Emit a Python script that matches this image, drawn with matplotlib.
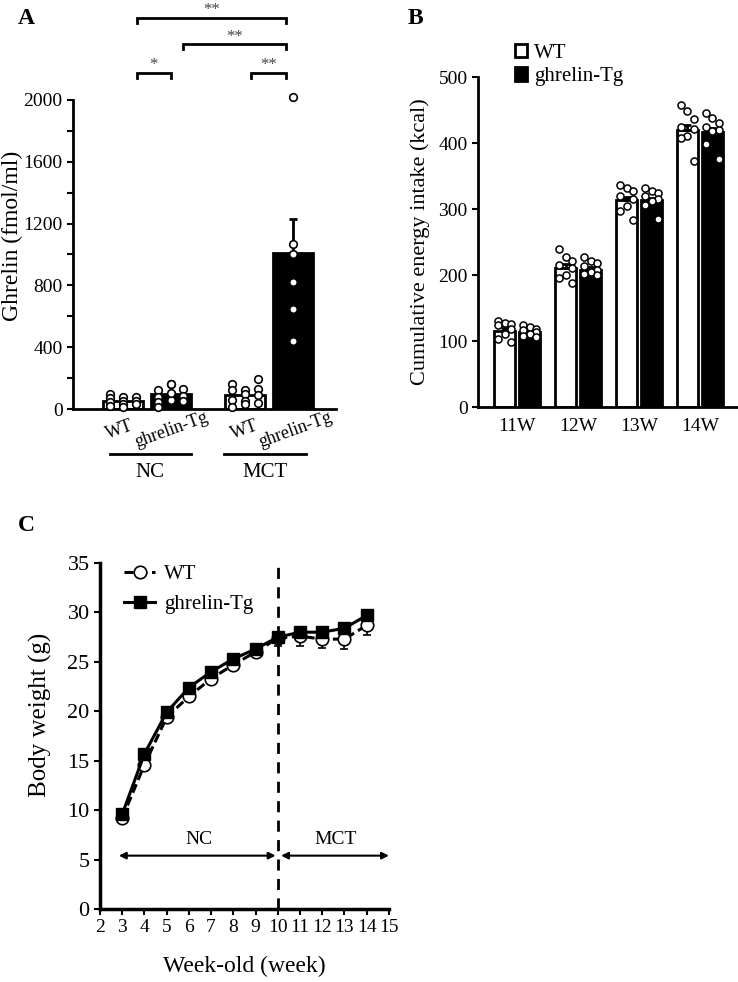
import numpy as np
import matplotlib
matplotlib.use("Agg")
import matplotlib.pyplot as plt

plt.rcParams['font.family'] = ['Liberation Serif', 'DejaVu Serif']
plt.rcParams['axes.linewidth'] = 2.0

# ---------------- Data ----------------
# Panel A
a_groups = ["WT", "ghrelin-Tg", "WT", "ghrelin-Tg"]
a_diets = ["NC", "MCT"]
a_means = [55, 100, 90, 1010]
a_err = [0, 0, 0, 220]
a_dots = [
    [95, 70, 45, 20, 78, 55, 35, 12, 80, 55, 30],
    [125, 80, 45, 15, 160, 60, 105, 165, 130, 85, 50],
    [160, 120, 60, 15, 125, 95, 55, 35, 195, 130, 90, 40],
    [2020, 1070, 1000, 820, 650, 440],
]
a_yticks = [0, 400, 800, 1200, 1600, 2000]

# Panel B
b_weeks = ["11W", "12W", "13W", "14W"]
b_wt = [115, 210, 313, 420]
b_tg = [113, 208, 313, 417]
b_wt_err = [5, 7, 6, 8]
b_tg_err = [3, 4, 4, 6]
b_wt_dots = [
    [130, 127, 126, 124, 118, 110, 103, 98],
    [240, 228, 222, 215, 210, 200, 195, 188],
    [337, 332, 327, 320, 315, 305, 297, 283],
    [457, 448, 436, 424, 422, 410, 408, 373],
]
b_tg_dots = [
    [124, 122, 118, 116, 113, 110, 108, 106],
    [228, 222, 218, 213, 208, 205, 202, 200],
    [332, 328, 325, 320, 316, 312, 306, 285],
    [445, 438, 430, 425, 420, 418, 398, 376],
]

# Panel C
c_weeks = [3, 4, 5, 6, 7, 8, 9, 10, 11, 12, 13, 14]
c_wt = [9.2, 14.6, 19.4, 21.5, 23.3, 24.7, 26.0, 27.4, 27.6, 27.3, 27.3, 28.7]
c_tg = [9.6, 15.7, 19.9, 22.4, 24.0, 25.3, 26.3, 27.5, 28.0, 28.0, 28.4, 29.7]
c_wt_err = [0.3, 0.4, 0.4, 0.4, 0.4, 0.4, 0.4, 0.8, 1.0, 0.9, 1.0, 1.0]
c_tg_err = [0.2, 0.3, 0.3, 0.3, 0.3, 0.3, 0.3, 0.3, 0.5, 0.4, 0.4, 0.4]

# ---------------- Figure ----------------
fig = plt.figure(figsize=(7.38, 9.82), dpi=100)

# ===== Panel A =====
axA = fig.add_axes([0.0989, 0.5835, 0.3565, 0.3147])
a_x = [0, 1, 2.57, 3.57]
a_w = 0.84
a_face = ['white', 'black', 'white', 'black']
axA.bar(a_x, a_means, width=a_w, color=a_face, edgecolor='black', linewidth=2, zorder=2)
axA.errorbar([a_x[3]], [a_means[3]], yerr=[[0], [a_err[3]]], fmt='none',
             ecolor='black', elinewidth=2, capsize=3, capthick=2, zorder=3)
for i, vals in enumerate(a_dots):
    n = len(vals)
    if i == 3:
        offs = np.zeros(n)
    else:
        cols = [-0.27, 0.0, 0.27]
        offs = np.array([cols[min(k // 4, 2)] for k in range(n)])
    axA.scatter(a_x[i] + offs, vals, s=30, facecolor='white', edgecolor='black',
                linewidth=1.2, zorder=4, clip_on=False)
axA.set_xlim(-1.05, 4.48)
axA.set_ylim(0, 2000)
axA.set_yticks(a_yticks)
axA.set_yticks(np.arange(200, 2000, 400), minor=True)
axA.set_xticks([])
axA.tick_params(axis='y', which='both', direction='out', length=4, width=1.5, labelsize=14)
for s in ['top', 'right']:
    axA.spines[s].set_visible(False)
axA.set_ylabel("Ghrelin (fmol/ml)", fontsize=17)
axA.yaxis.set_label_coords(-0.19, 0.56)

transA = axA.get_xaxis_transform()
for xc, lab in zip([-0.06, 1.03, 2.55, 3.62], a_groups):
    axA.text(xc, -0.068, lab, rotation=20, ha='center', va='center', fontsize=13,
             transform=transA, clip_on=False)
for (x0, x1), xc, lab in zip([(-0.27, 1.43), (2.13, 3.85)], [0.57, 2.99], a_diets):
    axA.plot([x0, x1], [-0.146, -0.146], color='black', lw=2, transform=transA, clip_on=False)
    axA.text(xc, -0.205, lab, ha='center', va='center', fontsize=15, transform=transA)

# significance brackets
brackets = [(0.29, 3.43, 2530, "**"), (1.26, 3.43, 2360, "**"),
            (0.29, 1.01, 2175, "*"), (2.69, 3.43, 2175, "**")]
for x0, x1, yb, lab in brackets:
    axA.plot([x0, x0, x1, x1], [yb - 30, yb, yb, yb - 30], color='black', lw=2,
             clip_on=False, solid_joinstyle='miter')
    axA.text((x0 + x1) / 2, yb + 50, lab, ha='center', va='center', fontsize=12,
             color='#444444', clip_on=False)

fig.text(0.024, 0.992, "A", fontsize=17, fontweight='bold', va='top')

# ===== Panel B =====
axB = fig.add_axes([0.648, 0.5855, 0.350, 0.336])
bx = np.arange(len(b_weeks))
off = 0.205
bw = 0.345
axB.bar(bx - off, b_wt, width=bw, color='white', edgecolor='black', linewidth=2, zorder=2, label='WT')
axB.bar(bx + off, b_tg, width=bw, color='black', edgecolor='black', linewidth=2, zorder=2, label='ghrelin-Tg')
axB.errorbar(bx - off, b_wt, yerr=[np.zeros(4), b_wt_err], fmt='none', ecolor='black',
             elinewidth=2, capsize=3, capthick=2, zorder=3)
axB.errorbar(bx + off, b_tg, yerr=[np.zeros(4), b_tg_err], fmt='none', ecolor='black',
             elinewidth=2, capsize=3, capthick=2, zorder=3)
b_pattern = np.array([-0.11, 0.0, 0.11, -0.11, 0.11, 0.0, -0.11, 0.11])
for i in range(len(b_weeks)):
    axB.scatter(bx[i] - off + b_pattern, b_wt_dots[i], s=26, facecolor='white',
                edgecolor='black', linewidth=1.1, zorder=4)
    axB.scatter(bx[i] + off + b_pattern, b_tg_dots[i], s=26, facecolor='white',
                edgecolor='black', linewidth=1.1, zorder=4)
axB.set_xlim(-0.64, 3.6)
axB.set_ylim(0, 500)
axB.set_yticks([0, 100, 200, 300, 400, 500])
axB.set_xticks(bx)
axB.set_xticklabels(b_weeks)
axB.tick_params(axis='y', direction='out', length=4, width=1.5, labelsize=14)
axB.tick_params(axis='x', length=0, labelsize=14, pad=8)
for s in ['top', 'right']:
    axB.spines[s].set_visible(False)
axB.set_ylabel("Cumulative energy intake (kcal)", fontsize=16, labelpad=6)
axB.legend(loc='upper left', bbox_to_anchor=(0.11, 1.125), frameon=False, fontsize=15,
           handlelength=0.6, handleheight=0.6, handletextpad=0.3, labelspacing=0.2,
           borderaxespad=0)
fig.text(0.553, 0.992, "B", fontsize=17, fontweight='bold', va='top')

# ===== Panel C =====
axC = fig.add_axes([0.1355, 0.0743, 0.3915, 0.3524])
axC.errorbar(c_weeks, c_wt, yerr=[c_wt_err, np.zeros(len(c_wt))], fmt='none', ecolor='black',
             elinewidth=1.2, capsize=3, capthick=1.2, zorder=2)
axC.errorbar(c_weeks, c_tg, yerr=[np.zeros(len(c_tg)), c_tg_err], fmt='none', ecolor='black',
             elinewidth=1.2, capsize=3, capthick=1.2, zorder=2)
axC.plot(c_weeks, c_wt, linestyle=(0, (3, 1.5)), color='black', lw=2.2, marker='o', markersize=9,
         markerfacecolor='white', markeredgecolor='black', markeredgewidth=1.2, label='WT', zorder=3)
axC.plot(c_weeks, c_tg, linestyle='-', color='black', lw=2.2, marker='s', markersize=9,
         markerfacecolor='black', markeredgecolor='black', label='ghrelin-Tg', zorder=4)
axC.axvline(10, color='black', lw=2, linestyle=(0, (4, 3)), zorder=1)
axC.annotate('', xy=(2.85, 5.4), xytext=(9.9, 5.4),
             arrowprops=dict(arrowstyle='<|-|>', color='black', lw=1.5, mutation_scale=10,
                             shrinkA=0, shrinkB=0))
axC.annotate('', xy=(10.15, 5.4), xytext=(15.0, 5.4),
             arrowprops=dict(arrowstyle='<|-|>', color='black', lw=1.5, mutation_scale=10,
                             shrinkA=0, shrinkB=0), annotation_clip=False)
axC.text(6.45, 7.0, "NC", ha='center', va='center', fontsize=14)
axC.text(12.6, 7.0, "MCT", ha='center', va='center', fontsize=14)
axC.set_xlim(2, 15)
axC.set_ylim(0, 35)
axC.set_xticks(range(2, 16))
axC.set_yticks(range(0, 36, 5))
axC.tick_params(axis='x', direction='out', length=4, width=1.5, labelsize=14)
axC.tick_params(axis='y', direction='out', length=4, width=1.5, labelsize=16)
for s in ['top', 'right']:
    axC.spines[s].set_visible(False)
axC.spines['left'].set_linewidth(2.5)
axC.spines['bottom'].set_linewidth(2.5)
axC.set_ylabel("Body weight (g)", fontsize=18)
axC.yaxis.set_label_coords(-0.165, 0.56)
axC.set_xlabel("Week-old (week)", fontsize=17, labelpad=14)
axC.legend(loc='upper left', bbox_to_anchor=(0.055, 1.02), frameon=False, fontsize=15,
           handlelength=1.5, handletextpad=0.4, labelspacing=0.5, borderaxespad=0)
fig.text(0.024, 0.476, "C", fontsize=17, fontweight='bold', va='top')

fig.savefig("out.png", dpi=100)
